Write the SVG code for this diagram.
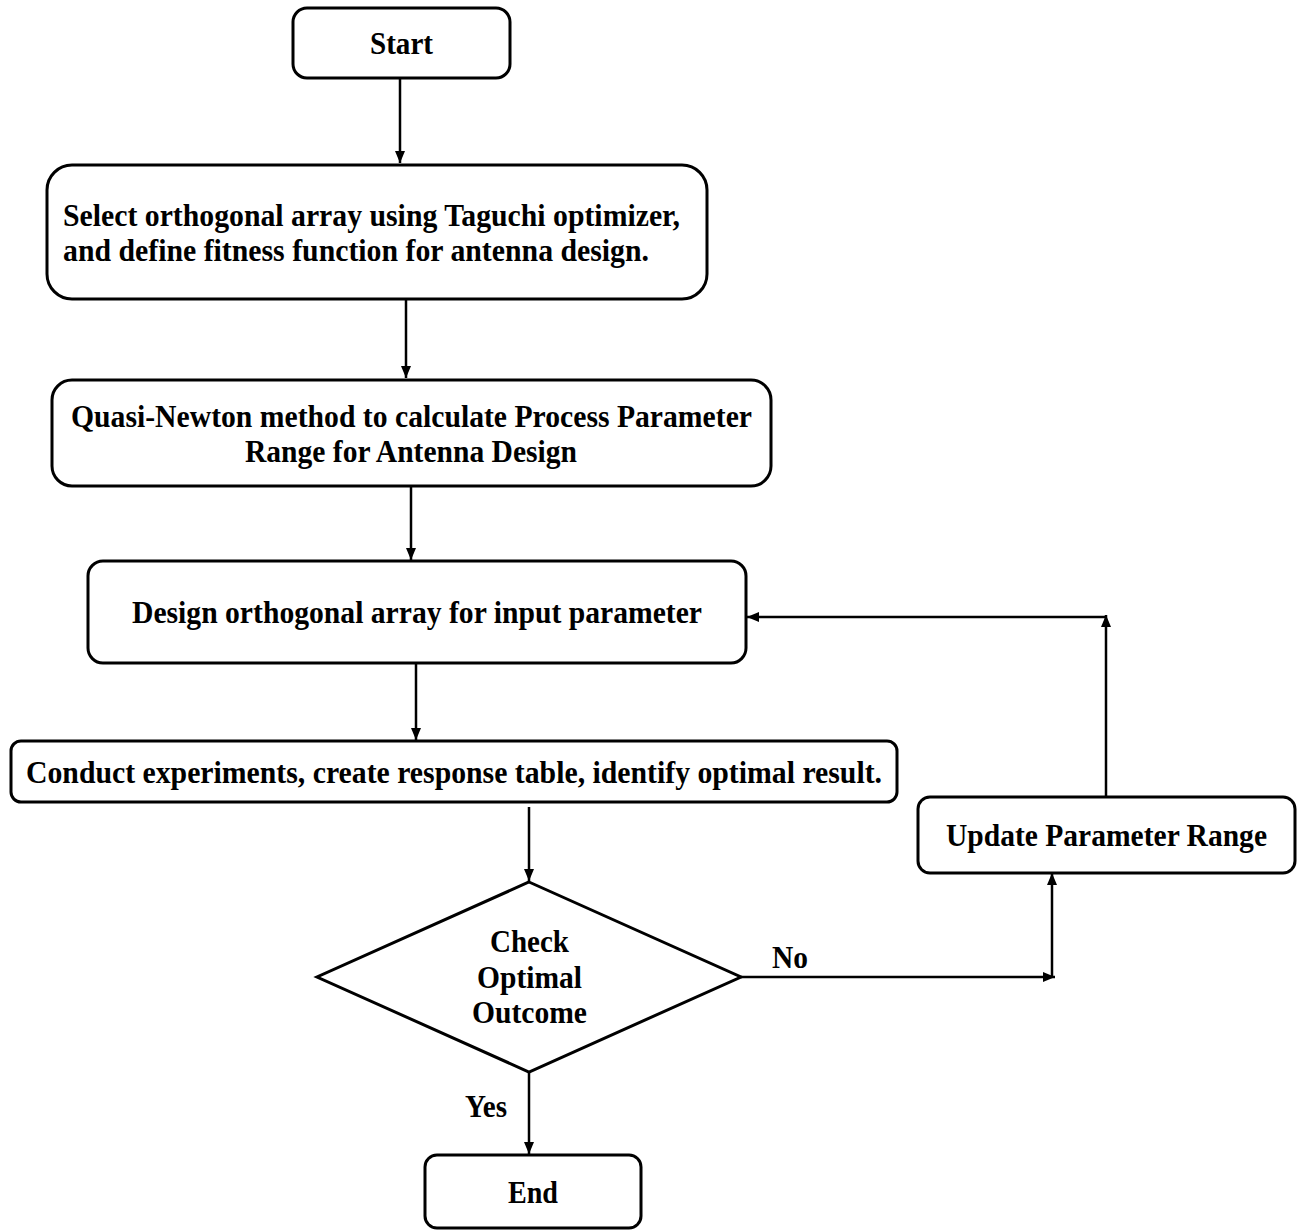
<svg xmlns="http://www.w3.org/2000/svg" width="1306" height="1230" viewBox="0 0 1306 1230">
<style>
.box{fill:#fff;stroke:#000;stroke-width:3}
.t{font-family:"Liberation Serif","Times New Roman",serif;font-weight:bold;font-size:31px;fill:#000}
.c{stroke:#000;stroke-width:2.5;fill:none}
</style>
<defs>
<marker id="ah" markerUnits="userSpaceOnUse" markerWidth="12" markerHeight="10" refX="12" refY="5" orient="auto">
<path d="M0,0 L12,5 L0,10 z" fill="#000"/>
</marker>
</defs>
<rect width="1306" height="1230" fill="#fff"/>
<g id="start">
<rect class="box" x="293" y="8" width="217" height="70" rx="14"/>
<text class="t" x="370" y="54" textLength="63" lengthAdjust="spacingAndGlyphs">Start</text>
</g>
<g id="select">
<rect class="box" x="47" y="165" width="660" height="134" rx="25"/>
<text class="t" x="63" y="226" textLength="617" lengthAdjust="spacingAndGlyphs">Select orthogonal array using Taguchi optimizer,</text>
<text class="t" x="63" y="261" textLength="586" lengthAdjust="spacingAndGlyphs">and define fitness function for antenna design.</text>
</g>
<g id="quasi">
<rect class="box" x="52" y="380" width="719" height="106" rx="20"/>
<text class="t" x="71" y="427" textLength="681" lengthAdjust="spacingAndGlyphs">Quasi-Newton method to calculate Process Parameter</text>
<text class="t" x="245" y="462" textLength="332" lengthAdjust="spacingAndGlyphs">Range for Antenna Design</text>
</g>
<g id="design">
<rect class="box" x="88" y="561" width="658" height="102" rx="15"/>
<text class="t" x="132" y="623" textLength="570" lengthAdjust="spacingAndGlyphs">Design orthogonal array for input parameter</text>
</g>
<g id="conduct">
<rect class="box" x="11" y="741" width="886" height="61" rx="10"/>
<text class="t" x="26" y="783" textLength="856" lengthAdjust="spacingAndGlyphs">Conduct experiments, create response table, identify optimal result.</text>
</g>
<g id="check">
<polygon class="box" points="529,882 741,977 529,1072 317,977"/>
<text class="t" x="490" y="952" textLength="79" lengthAdjust="spacingAndGlyphs">Check</text>
<text class="t" x="477" y="988" textLength="105" lengthAdjust="spacingAndGlyphs">Optimal</text>
<text class="t" x="472" y="1023" textLength="115" lengthAdjust="spacingAndGlyphs">Outcome</text>
</g>
<g id="update">
<rect class="box" x="918" y="797" width="377" height="76" rx="12"/>
<text class="t" x="946" y="846" textLength="321" lengthAdjust="spacingAndGlyphs">Update Parameter Range</text>
</g>
<g id="end">
<rect class="box" x="425" y="1155" width="216" height="73" rx="12"/>
<text class="t" x="508" y="1203" textLength="50" lengthAdjust="spacingAndGlyphs">End</text>
</g>
<g id="connectors">
<line class="c" x1="400" y1="78" x2="400" y2="163" marker-end="url(#ah)"/>
<line class="c" x1="406" y1="299" x2="406" y2="378" marker-end="url(#ah)"/>
<line class="c" x1="411" y1="486" x2="411" y2="560" marker-end="url(#ah)"/>
<line class="c" x1="416" y1="663" x2="416" y2="740" marker-end="url(#ah)"/>
<line class="c" x1="529" y1="807" x2="529" y2="881" marker-end="url(#ah)"/>
<line class="c" x1="741" y1="977" x2="1055" y2="977" marker-end="url(#ah)"/>
<line class="c" x1="1052" y1="977" x2="1052" y2="873" marker-end="url(#ah)"/>
<line class="c" x1="1106" y1="797" x2="1106" y2="615" marker-end="url(#ah)"/>
<line class="c" x1="1106" y1="617" x2="747" y2="617" marker-end="url(#ah)"/>
<line class="c" x1="529" y1="1072" x2="529" y2="1154" marker-end="url(#ah)"/>
<text class="t" x="772" y="968" textLength="36" lengthAdjust="spacingAndGlyphs">No</text>
<text class="t" x="465" y="1117" textLength="42" lengthAdjust="spacingAndGlyphs">Yes</text>
</g>
</svg>
